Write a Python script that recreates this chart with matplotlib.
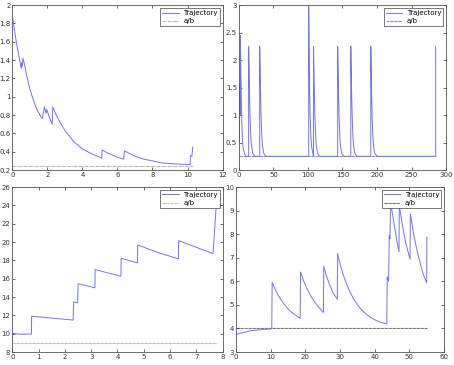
import matplotlib

matplotlib.use("Agg")

import matplotlib.pyplot as plt
from matplotlib import ticker


OUTPUT_FILE = "out.png"

TRAJECTORY_COLOR = "#7373f0"

# Panel 1 (top left)
TL_T = [
    0.00, 0.10, 0.20, 0.30, 0.40, 0.50, 0.52, 0.56, 0.60, 0.70,
    0.80, 0.90, 1.00, 1.20, 1.40, 1.60, 1.70, 1.82, 1.92, 1.96,
    2.10, 2.27, 2.30, 2.50, 2.75, 3.00, 3.50, 4.00, 4.50, 5.10,
    5.12, 5.50, 6.00, 6.35, 6.40, 7.00, 7.50, 8.00, 8.50, 9.00,
    9.50, 10.15, 10.17, 10.25, 10.30,
]
TL_Y = [
    1.88, 1.74, 1.62, 1.51, 1.41, 1.31, 1.37, 1.33, 1.42, 1.34,
    1.24, 1.16, 1.08, 0.96, 0.86, 0.79, 0.76, 0.89, 0.82, 0.86,
    0.78, 0.70, 0.89, 0.80, 0.71, 0.63, 0.51, 0.43, 0.38, 0.33,
    0.42, 0.38, 0.34, 0.32, 0.41, 0.35, 0.32, 0.30, 0.28, 0.27,
    0.265, 0.26, 0.36, 0.35, 0.45,
]
TL_RATIO = 0.25
TL_RATIO_SPAN = [0.0, 10.3]

# Panel 2 (top right)
TR_T = [
    0.0, 0.5, 1.0, 1.5, 2.0, 3.0, 4.0, 5.0, 6.0, 8.0, 10.0,
    14.0, 14.01, 15.0, 16.0, 17.0, 18.0, 20.0, 23.0,
    30.0, 30.01, 31.0, 32.0, 33.0, 34.0, 36.0, 39.0,
    101.0, 101.01, 101.5, 102.0, 103.0, 104.0, 105.0, 107.0, 108.0,
    108.01, 109.0, 110.0, 111.0, 112.0, 114.0, 117.0,
    143.0, 143.01, 144.0, 145.0, 146.0, 147.0, 149.0, 152.0,
    162.0, 162.01, 163.0, 164.0, 165.0, 166.0, 168.0, 171.0,
    191.0, 191.01, 192.0, 193.0, 194.0, 195.0, 197.0, 200.0,
    285.0, 285.01,
]
TR_Y = [
    0.90, 0.50, 1.55, 1.00, 2.45, 1.60, 0.90, 0.55, 0.40, 0.30, 0.25,
    0.25, 2.25, 1.55, 1.00, 0.65, 0.45, 0.30, 0.25,
    0.25, 2.25, 1.55, 1.00, 0.65, 0.45, 0.30, 0.25,
    0.25, 3.00, 2.30, 1.70, 1.05, 0.65, 0.45, 0.30, 0.25,
    2.25, 1.55, 1.00, 0.65, 0.45, 0.30, 0.25,
    0.25, 2.25, 1.55, 1.00, 0.65, 0.45, 0.30, 0.25,
    0.25, 2.25, 1.55, 1.00, 0.65, 0.45, 0.30, 0.25,
    0.25, 2.25, 1.45, 0.95, 0.62, 0.43, 0.30, 0.25,
    0.25, 2.25,
]
TR_RATIO = 0.25
TR_RATIO_SPAN = [0.0, 285.0]

# Panel 3 (bottom left)
BL_T = [
    0.00, 0.25, 0.72, 0.73, 1.50, 2.31, 2.33, 2.48, 2.50, 2.80,
    3.14, 3.15, 3.60, 4.13, 4.14, 4.45, 4.76, 4.77, 5.50, 6.32,
    6.33, 7.00, 7.64, 7.75, 7.82,
]
BL_Y = [
    10.05, 9.95, 9.95, 11.90, 11.70, 11.48, 13.48, 13.37, 15.44, 15.25,
    15.00, 17.00, 16.65, 16.27, 18.23, 17.97, 17.72, 19.68, 18.90, 18.16,
    20.16, 19.42, 18.74, 23.50, 25.50,
]
BL_RATIO = 9.0
BL_RATIO_SPAN = [0.0, 7.8]

# Panel 4 (bottom right)
BR_T = [
    0.0, 2.0, 4.0, 6.0, 8.0, 10.0, 10.3, 10.4, 11.0, 12.0,
    13.0, 14.0, 15.0, 16.0, 17.0, 18.5, 18.6, 19.5, 20.5, 21.5,
    22.5, 23.5, 24.5, 25.2, 25.3, 26.0, 27.0, 28.0, 29.2, 29.3,
    30.0, 31.0, 32.0, 33.0, 34.0, 35.0, 36.0, 37.0, 38.0, 39.0,
    40.0, 41.0, 42.0, 43.5, 43.6, 44.0, 44.2, 44.4, 44.6, 45.5,
    46.3, 47.0, 47.1, 48.0, 49.0, 50.2, 50.3, 51.0, 52.0, 53.0,
    54.0, 55.0, 55.05,
]
BR_Y = [
    3.75, 3.82, 3.90, 3.93, 3.96, 3.98, 4.00, 5.95, 5.75, 5.45,
    5.21, 5.00, 4.83, 4.69, 4.58, 4.43, 6.40, 6.02, 5.67, 5.39,
    5.16, 4.96, 4.80, 4.67, 6.64, 6.26, 5.85, 5.51, 5.24, 7.18,
    6.74, 6.24, 5.84, 5.51, 5.23, 5.01, 4.83, 4.68, 4.55, 4.45,
    4.37, 4.30, 4.25, 4.19, 6.19, 6.00, 7.95, 7.80, 9.30, 8.54,
    7.80, 7.25, 9.22, 8.37, 7.60, 6.94, 8.87, 8.20, 7.45, 6.83,
    6.30, 5.94, 7.88,
]
BR_RATIO = 4.0
BR_RATIO_SPAN = [0.0, 55.0]

PANELS = [
    {
        "rect": [0.0275, 0.534, 0.4626, 0.452],
        "t": TL_T, "y": TL_Y,
        "ratio": TL_RATIO, "span": TL_RATIO_SPAN,
        "xlim": (0, 12), "ylim": (0.2, 2),
        "xstep": 2, "ystep": 0.2,
        "style": "-.", "ratio_color": "#b8b8b8",
    },
    {
        "rect": [0.5264, 0.534, 0.456, 0.452],
        "t": TR_T, "y": TR_Y,
        "ratio": TR_RATIO, "span": TR_RATIO_SPAN,
        "xlim": (0, 300), "ylim": (0, 3),
        "xstep": 50, "ystep": 0.5,
        "style": "--", "ratio_color": "#8a8ae8",
    },
    {
        "rect": [0.0275, 0.0356, 0.4626, 0.452],
        "t": BL_T, "y": BL_Y,
        "ratio": BL_RATIO, "span": BL_RATIO_SPAN,
        "xlim": (0, 8), "ylim": (8, 26),
        "xstep": 1, "ystep": 2,
        "style": "--", "ratio_color": "#c4c4c4",
    },
    {
        "rect": [0.520, 0.0356, 0.458, 0.452],
        "t": BR_T, "y": BR_Y,
        "ratio": BR_RATIO, "span": BR_RATIO_SPAN,
        "xlim": (0, 60), "ylim": (3, 10),
        "xstep": 10, "ystep": 1,
        "style": "--", "ratio_color": "#7a7a7a",
    },
]


def draw_panel(figure, panel) -> None:
    axes = figure.add_axes(panel["rect"])

    axes.plot(
        panel["span"],
        [panel["ratio"], panel["ratio"]],
        color=panel["ratio_color"],
        linestyle=panel["style"],
        dashes=(3, 0.6) if panel["style"] == "--" else (3, 0.6, 0.8, 0.6),
        linewidth=0.8,
        label="a/b",
        zorder=1,
    )

    axes.plot(
        panel["t"],
        panel["y"],
        color=TRAJECTORY_COLOR,
        linewidth=0.7,
        label="Trajectory",
        zorder=2,
    )

    axes.set_xlim(*panel["xlim"])
    axes.set_ylim(*panel["ylim"])

    axes.xaxis.set_major_locator(ticker.MultipleLocator(panel["xstep"]))
    axes.yaxis.set_major_locator(ticker.MultipleLocator(panel["ystep"]))
    axes.xaxis.set_major_formatter(ticker.FormatStrFormatter("%g"))
    axes.yaxis.set_major_formatter(ticker.FormatStrFormatter("%g"))

    axes.tick_params(
        direction="in",
        top=True,
        right=True,
        length=2,
        width=0.5,
        labelsize=5,
        pad=1.5,
        colors="#333333",
    )

    for spine in axes.spines.values():
        spine.set_linewidth(0.6)
        spine.set_color("#555555")

    handles, labels = axes.get_legend_handles_labels()
    legend = axes.legend(
        handles[::-1],
        labels[::-1],
        loc="upper right",
        fontsize=5,
        frameon=True,
        fancybox=False,
        framealpha=1,
        borderaxespad=0.4,
        handlelength=2.4,
        handletextpad=0.6,
        borderpad=0.3,
        labelspacing=0.3,
    )
    legend.get_frame().set_edgecolor("#444444")
    legend.get_frame().set_linewidth(0.5)


def main() -> None:
    figure = plt.figure(figsize=(4.54, 3.65), dpi=100)

    for panel in PANELS:
        draw_panel(figure, panel)

    figure.savefig(OUTPUT_FILE, dpi=100)
    plt.close(figure)


if __name__ == "__main__":
    main()
